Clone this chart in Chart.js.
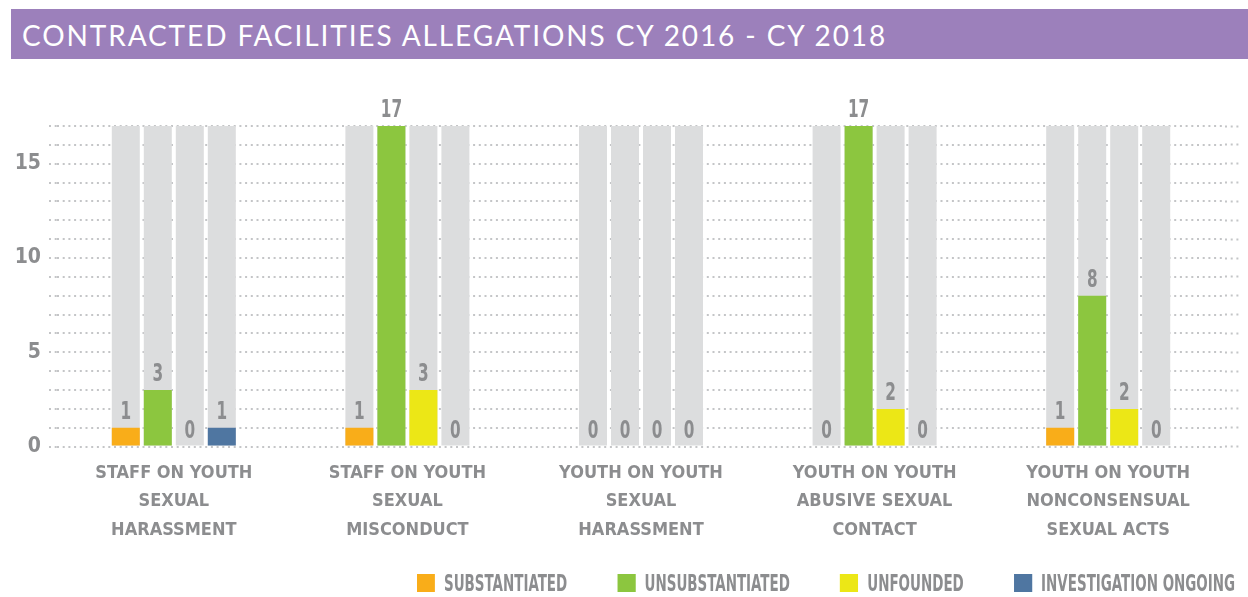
<!DOCTYPE html>
<html>
<head>
<meta charset="utf-8">
<script src="https://cdn.jsdelivr.net/npm/chart.js@4.4.1/dist/chart.umd.min.js"></script>
<style>
  html, body { margin: 0; padding: 0; background: #fff; }
  body { width: 1248px; height: 597px; position: relative; overflow: hidden; }
  #banner {
    position: absolute; left: 11px; top: 9px; width: 1237px; height: 50px;
    background: #9c80bb; color: #fff; box-sizing: border-box; padding-left: 11px;
    font-family: Lato, "Noto Sans", sans-serif; font-size: 28px; line-height: 52px;
    letter-spacing: 1.9px; white-space: nowrap;
  }
  #wrap { position: absolute; left: 0; top: 0; width: 1248px; height: 597px; }
  /* condensed look: the whole legend is squeezed horizontally */
  #legend {
    position: absolute; right: 13px; top: 572px; display: flex; gap: 77px;
    transform: scaleX(0.65); transform-origin: right center;
    font-family: "DejaVu Sans Condensed", "DejaVu Sans", sans-serif;
    font-weight: bold; font-size: 23px; color: #8c8d8f; line-height: 22px;
    white-space: nowrap;
  }
  #legend .item { display: flex; align-items: center; gap: 14px; }
  #legend .box { width: 28px; height: 18px; }
</style>
</head>
<body>
<div id="banner">CONTRACTED FACILITIES ALLEGATIONS CY 2016 - CY 2018</div>
<div id="wrap"><canvas id="chart"></canvas></div>
<div id="legend"></div>
<script>
// data
const categories = [
    ["STAFF ON YOUTH", "SEXUAL", "HARASSMENT"],
    ["STAFF ON YOUTH", "SEXUAL", "MISCONDUCT"],
    ["YOUTH ON YOUTH", "SEXUAL", "HARASSMENT"],
    ["YOUTH ON YOUTH", "ABUSIVE SEXUAL", "CONTACT"],
    ["YOUTH ON YOUTH", "NONCONSENSUAL", "SEXUAL ACTS"]
];
const seriesNames = ["SUBSTANTIATED", "UNSUBSTANTIATED", "UNFOUNDED", "INVESTIGATION ONGOING"];
const substantiated = [1, 1, 0, 0, 1];
const unsubstantiated = [3, 17, 0, 17, 8];
const unfounded = [0, 3, 0, 2, 2];
const ongoing = [1, 0, 0, 0, 0];
const trackValues = [17, 17, 17, 17, 17]; // grey track behind every bar
const yMax = 17;
const yTickLabels = [0, 5, 10, 15];

const seriesColors = ["#f9ad19", "#8cc63f", "#ece716", "#4f76a1"];
const trackColor = "#dcddde";
const textGray = "#8c8d8f";
const gridColor = "#c4c5c7";
const condensed = '"DejaVu Sans Condensed", "DejaVu Sans", sans-serif';

const seriesData = [substantiated, unsubstantiated, unfounded, ongoing];

// each coloured bar shares its slot (stack id) with one grey track
let datasets = [];
seriesData.forEach((vals, i) => {
    datasets.push({
        label: seriesNames[i],
        data: vals,
        backgroundColor: seriesColors[i],
        stack: "s" + i,
        isValue: true,
        order: 1
    });
});
seriesData.forEach((vals, i) => {
    datasets.push({
        label: "track" + i,
        data: trackValues,
        backgroundColor: trackColor,
        stack: "s" + i,
        order: 2
    });
});

// numbers above each coloured bar
const valueLabels = {
    id: "valueLabels",
    afterDatasetsDraw(chart) {
        const ctx = chart.ctx;
        ctx.save();
        ctx.font = "bold 25px " + condensed;
        ctx.fillStyle = textGray;
        ctx.textAlign = "center";
        ctx.textBaseline = "alphabetic";
        chart.data.datasets.forEach((ds, i) => {
            if (!ds.isValue) return;
            chart.getDatasetMeta(i).data.forEach((bar, j) => {
                let txt = String(ds.data[j]);
                let w = ctx.measureText(txt).width * 0.68;
                ctx.fillText(txt, bar.x, bar.y - 9, w);
            });
        });
        ctx.restore();
    }
};

new Chart(document.getElementById("chart"), {
    type: "bar",
    data: { labels: categories, datasets: datasets },
    options: {
        responsive: true,
        maintainAspectRatio: false,
        animation: false,
        categoryPercentage: 0.548,
        barPercentage: 0.875,
        layout: { padding: { top: 126, bottom: 40, left: 0, right: 0 } },
        plugins: {
            legend: { display: false },
            tooltip: { enabled: false }
        },
        scales: {
            x: {
                type: "category",
                offset: true,
                grid: { display: false, drawTicks: false },
                border: { display: false },
                ticks: {
                    color: textGray,
                    autoSkip: false,
                    maxRotation: 0,
                    padding: 12,
                    font: { family: condensed, size: 18, weight: "bold", lineHeight: 1.6 }
                }
            },
            y: {
                min: 0,
                max: yMax,
                stacked: false,
                afterFit(s) { s.width = 57; },
                border: { display: false, dash: [2, 3.7] },
                grid: {
                    color: gridColor,
                    lineWidth: 2,
                    tickLength: 8,
                    tickColor: gridColor,
                    tickWidth: 2,
                    tickBorderDash: [2, 3.7]
                },
                ticks: {
                    stepSize: 1,
                    autoSkip: false,
                    padding: 8,
                    color: textGray,
                    font: { family: condensed, size: 21, weight: "bold" },
                    callback: v => yTickLabels.includes(v) ? v : ""
                }
            },
            y2: {
                position: "right",
                min: 0,
                max: yMax,
                stacked: false,
                afterFit(s) { s.width = 23; },
                border: { display: false },
                grid: {
                    drawOnChartArea: false,
                    tickLength: 15,
                    tickColor: gridColor,
                    tickWidth: 2,
                    tickBorderDash: [2, 3.7]
                },
                ticks: { display: false, stepSize: 1, autoSkip: false }
            }
        }
    },
    plugins: [valueLabels]
});

// html legend
const legend = document.getElementById("legend");
seriesNames.forEach((name, i) => {
    let item = document.createElement("div");
    item.className = "item";
    item.innerHTML = `<span class="box" style="background:${seriesColors[i]}"></span><span>${name}</span>`;
    legend.appendChild(item);
});
</script>
</body>
</html>
